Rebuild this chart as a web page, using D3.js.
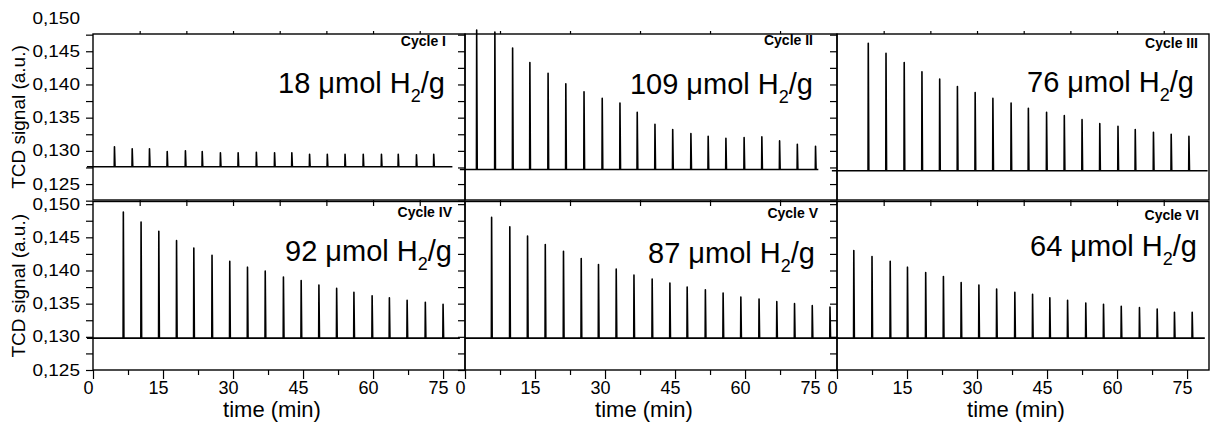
<!DOCTYPE html>
<html>
<head>
<meta charset="utf-8">
<script src="https://cdn.jsdelivr.net/npm/d3@7"></script>
<style>
  body { margin: 0; background: #fff; }
  text { font-family: Arial, "Liberation Sans", sans-serif; fill: #000; }
</style>
</head>
<body>
<div id="chart"></div>
<script>
// Data
var cycles = ["Cycle I", "Cycle II", "Cycle III", "Cycle IV", "Cycle V", "Cycle VI"];
var uptake = [18, 109, 76, 92, 87, 64];
var baselines = [0.1276, 0.1272, 0.1270, 0.1298, 0.1298, 0.1298];
var traceStart = [-1.3, -1.1, -1.1, -1.3, 0, 0];
var traceEnd = [77, 75.7, 79.4, 78.6, 80, 78.8];

var peakTimes = [
  [4.6, 8.4, 12.1, 15.9, 19.8, 23.4, 27.3, 31.1, 35.0, 38.9, 42.6, 46.4, 50.2, 54.0, 57.9, 61.8, 65.4, 69.3, 73.0],
  [2.5, 6.4, 10.2, 13.9, 17.8, 21.6, 25.5, 29.4, 33.2, 36.9, 40.7, 44.5, 48.4, 52.1, 55.9, 59.8, 63.6, 67.4, 71.2, 75.1],
  [6.7, 10.5, 14.4, 18.2, 22.0, 25.8, 29.6, 33.4, 37.3, 41.0, 44.9, 48.7, 52.5, 56.3, 60.2, 63.9, 67.8, 71.6, 75.4],
  [6.5, 10.3, 14.1, 17.9, 21.6, 25.5, 29.3, 33.1, 36.9, 40.8, 44.6, 48.4, 52.2, 55.9, 59.8, 63.5, 67.3, 71.2, 75.0],
  [5.7, 9.6, 13.4, 17.2, 21.1, 24.9, 28.6, 32.4, 36.2, 40.1, 43.9, 47.6, 51.5, 55.3, 59.1, 63.0, 66.8, 70.6, 74.4, 78.2],
  [3.6, 7.5, 11.4, 15.1, 19.0, 22.8, 26.6, 30.4, 34.2, 38.1, 41.9, 45.6, 49.4, 53.3, 57.1, 60.9, 64.8, 68.6, 72.3, 76.1]
];

var peakHeights = [
  [0.1306, 0.1303, 0.1303, 0.1299, 0.1300, 0.1299, 0.1297, 0.1297, 0.1298, 0.1297, 0.1297, 0.1295, 0.1295, 0.1295, 0.1295, 0.1295, 0.1295, 0.1294, 0.1295],
  [0.1482, 0.1479, 0.1455, 0.1433, 0.1417, 0.1401, 0.1389, 0.1379, 0.1372, 0.1358, 0.1340, 0.1332, 0.1326, 0.1322, 0.1319, 0.1320, 0.1321, 0.1315, 0.1310, 0.1307],
  [0.1462, 0.1447, 0.1433, 0.1419, 0.1408, 0.1397, 0.1388, 0.1379, 0.1372, 0.1364, 0.1358, 0.1353, 0.1347, 0.1341, 0.1337, 0.1332, 0.1328, 0.1325, 0.1322],
  [0.1488, 0.1473, 0.1459, 0.1445, 0.1434, 0.1423, 0.1414, 0.1405, 0.1399, 0.1390, 0.1385, 0.1378, 0.1373, 0.1367, 0.1362, 0.1359, 0.1355, 0.1352, 0.1349],
  [0.1480, 0.1466, 0.1452, 0.1439, 0.1429, 0.1418, 0.1409, 0.1402, 0.1393, 0.1387, 0.1381, 0.1375, 0.1371, 0.1366, 0.1360, 0.1357, 0.1353, 0.1350, 0.1347, 0.1345],
  [0.1430, 0.1421, 0.1414, 0.1405, 0.1397, 0.1391, 0.1382, 0.1378, 0.1372, 0.1367, 0.1364, 0.1359, 0.1355, 0.1351, 0.1349, 0.1346, 0.1344, 0.1342, 0.1337, 0.1337]
];

// Tick values
var xTickLabels = [0, 15, 30, 45, 60, 75];
var xTicksBottom = [0, 7.5, 15, 22.5, 30, 37.5, 45, 52.5, 60, 67.5, 75];
var xTicksTopRow = [
  [10, 20, 30, 40, 50, 60, 70],
  [7.5, 22.5, 37.5, 52.5, 67.5],
  [10, 20, 30, 40, 50, 60, 70]
];
var yTickLabels = [0.125, 0.130, 0.135, 0.140, 0.145, 0.150];
var yTicksTop = [0.1225, 0.125, 0.1275, 0.130, 0.1325, 0.135, 0.1375, 0.140, 0.1425, 0.145, 0.1475];
var yTicksBottom = [0.125, 0.1275, 0.130, 0.1325, 0.135, 0.1375, 0.140, 0.1425, 0.145, 0.1475, 0.150];

// Layout
var svgWidth = 1210;
var svgHeight = 423;
var colX = [93, 465, 837];
var panelW = 372;
var rowTop = [34, 201.5];
var rowBottom = [200, 370];
var yDomains = [[0.1226, 0.1476], [0.125, 0.1504]];
var cycleLabelPos = [[446, 46], [813, 45], [1198, 48], [452, 217], [818, 218], [1199, 220]];
var uptakeLabelPos = [[445, 93], [813, 94], [1194, 92], [452, 261], [815, 263], [1197, 256]];

var svg = d3.select("#chart")
  .append("svg")
  .attr("width", svgWidth)
  .attr("height", svgHeight);

var fmt = function(v) { return d3.format(".3f")(v).replace(".", ","); };

cycles.forEach(function(name, i) {
  var row = Math.floor(i / 3);
  var col = i % 3;

  var x = d3.scaleLinear().domain([0, 79.7]).range([colX[col], colX[col] + panelW]);
  var y = d3.scaleLinear().domain(yDomains[row]).range([rowBottom[row], rowTop[row]]);

  // trace: flat baseline with one spike per injection
  var pts = [[traceStart[i], baselines[i]]];
  peakTimes[i].forEach(function(t, k) {
    pts.push([t - 0.05, baselines[i]]);
    pts.push([t, peakHeights[i][k]]);
    pts.push([t + 0.12, baselines[i]]);
  });
  pts.push([traceEnd[i], baselines[i]]);

  var line = d3.line().x(d => x(d[0])).y(d => y(d[1]));

  svg.append("path")
    .datum(pts)
    .attr("d", line)
    .attr("fill", "none")
    .attr("stroke", "#000")
    .attr("stroke-width", 1.6)
    .attr("stroke-linejoin", "round");

  // left axis ticks
  var leftAxis = d3.axisLeft(y)
    .tickValues(row === 0 ? yTicksTop : yTicksBottom)
    .tickSize(7)
    .tickSizeOuter(0)
    .tickFormat("");
  var gl = svg.append("g")
    .attr("transform", `translate(${colX[col]},0)`)
    .call(leftAxis);
  gl.select(".domain").remove();
  gl.selectAll("line").attr("stroke", "#000").attr("stroke-width", 1.2);

  if (row === 0) {
    // top row: ticks on top (up) and bottom (down)
    var topAxis = d3.axisTop(x).tickValues(xTicksTopRow[col]).tickSize(3).tickFormat("");
    var gt = svg.append("g").attr("transform", `translate(0,${rowTop[row]})`).call(topAxis);
    gt.select(".domain").remove();
    gt.selectAll("line").attr("stroke", "#000").attr("stroke-width", 1.2);

    var downAxis = d3.axisBottom(x).tickValues(xTicksTopRow[col]).tickSize(6).tickFormat("");
    var gd = svg.append("g").attr("transform", `translate(0,${rowBottom[row]})`).call(downAxis);
    gd.select(".domain").remove();
    gd.selectAll("line").attr("stroke", "#000").attr("stroke-width", 1.2);
  } else {
    var bottomAxis = d3.axisBottom(x)
      .tickValues(xTicksBottom)
      .tickSizeOuter(0)
      .tickFormat(d => xTickLabels.indexOf(d) >= 0 ? d : "");
    var gb = svg.append("g").attr("transform", `translate(0,${rowBottom[row]})`).call(bottomAxis);
    gb.select(".domain").remove();
    gb.selectAll("line")
      .attr("stroke", "#000")
      .attr("stroke-width", 1.2)
      .attr("y2", d => xTickLabels.indexOf(d) >= 0 ? 9 : 5);
    gb.selectAll("text")
      .attr("y", 24)
      .attr("dy", null)
      .attr("dx", -5)
      .style("font-size", "18px")
      .style("font-family", "Arial, 'Liberation Sans', sans-serif")
      .attr("fill", "#000");

    svg.append("text")
      .attr("x", colX[col] + panelW / 2 - 7)
      .attr("y", 417)
      .attr("text-anchor", "middle")
      .style("font-size", "22px")
      .text("time (min)");
  }

  // y tick labels on the leftmost column
  if (col === 0) {
    svg.selectAll(null)
      .data(yTickLabels)
      .enter()
      .append("text")
      .attr("transform", d => `translate(80,${y(d)}) scale(1,0.82)`)
      .attr("text-anchor", "end")
      .attr("dy", "0.36em")
      .style("font-size", "19px")
      .text(fmt);

    svg.append("text")
      .attr("transform", `translate(25,${(rowTop[row] + rowBottom[row]) / 2}) rotate(-90)`)
      .attr("text-anchor", "middle")
      .style("font-size", "19px")
      .text("TCD signal (a.u.)");
  }

  // frame
  svg.append("rect")
    .attr("x", colX[col])
    .attr("y", rowTop[row])
    .attr("width", panelW)
    .attr("height", rowBottom[row] - rowTop[row])
    .attr("fill", "none")
    .attr("stroke", "#000")
    .attr("stroke-width", 1.4);

  // labels
  svg.append("text")
    .attr("x", cycleLabelPos[i][0])
    .attr("y", cycleLabelPos[i][1])
    .attr("text-anchor", "end")
    .style("font-size", "14px")
    .style("font-weight", "bold")
    .text(name);

  var t = svg.append("text")
    .attr("x", uptakeLabelPos[i][0])
    .attr("y", uptakeLabelPos[i][1])
    .attr("text-anchor", "end")
    .style("font-size", "29px");
  t.append("tspan").text(uptake[i] + " \u03bcmol H");
  t.append("tspan").attr("dy", 9).style("font-size", "18px").text("2");
  t.append("tspan").attr("dy", -9).text("/g");
});
</script>
</body>
</html>
